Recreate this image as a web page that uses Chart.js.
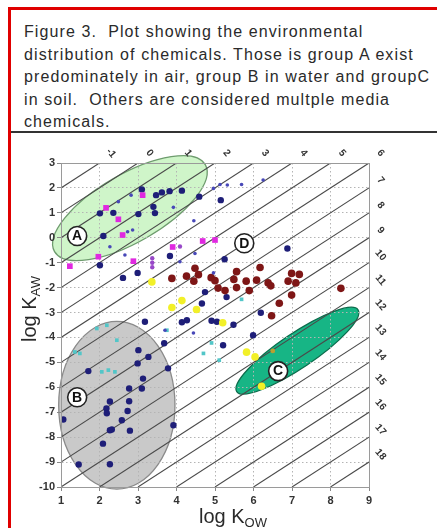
<!DOCTYPE html>
<html><head><meta charset="utf-8">
<script src="https://cdn.jsdelivr.net/npm/chart.js@4"></script>
<style>
html,body{margin:0;padding:0;background:#fff;}
body{width:437px;height:528px;position:relative;overflow:hidden;font-family:"Liberation Sans",Arial,sans-serif;}
#frameTop{position:absolute;left:8px;top:7px;width:429px;height:3px;background:#e00000;}
#frameLeft{position:absolute;left:8px;top:7px;width:3px;height:521px;background:#e00000;}
#caption{position:absolute;left:24px;top:21px;width:413px;font-size:16px;line-height:22.5px;color:#2a2a2a;letter-spacing:1.1px;white-space:pre;}
#sep{position:absolute;left:11px;top:131px;width:426px;height:2px;background:#333;}
#wrap{position:absolute;left:0;top:134px;width:437px;height:394px;}
</style></head>
<body>
<div id="frameTop"></div><div id="frameLeft"></div>
<div id="caption">Figure 3.  Plot showing the environmental
distribution of chemicals. Those is group A exist
predominately in air, group B in water and groupC
in soil.  Others are considered multple media
chemicals.</div>
<div id="sep"></div>
<div id="wrap"><canvas id="c" width="437" height="394"></canvas></div>
<script>
// ---- data ----
const xTicks = [1,2,3,4,5,6,7,8,9];
const yTicks = [3,2,1,0,-1,-2,-3,-4,-5,-6,-7,-8,-9,-10];
const koaTop = [-1,0,1,2,3,4,5,6];
const koaRight = [7,8,9,10,11,12,13,14,15,16,17,18];

const navyPts = [[3.10,1.94],[3.47,1.71],[3.62,1.82],[3.82,1.87],[4.14,1.89],
[2.01,0.98],[2.36,1.00],[3.01,0.95],[3.40,1.24],[3.44,0.99],
[2.10,0.07],[4.59,1.65],[5.15,1.51],
[2.01,-1.10],[2.61,-1.61],[2.99,-1.41],[3.83,-0.73],[5.25,-0.86],[6.88,-0.43],
[4.74,-2.18],[5.30,-2.38],[4.66,-2.64],[4.27,-3.31],[4.14,-3.39],[4.91,-3.33],[5.05,-3.37],[5.48,-3.49],[6.19,-3.01],[5.99,-3.91],[5.21,-4.31],
[3.18,-3.37],[3.68,-4.23],[3.01,-4.51],[3.27,-4.78],[2.99,-5.04],[1.71,-5.35],[3.78,-5.24],[3.13,-5.65],
[2.77,-6.05],[3.10,-6.05],[2.27,-6.57],[2.18,-6.85],[2.19,-7.04],[2.77,-6.56],[2.73,-6.95],[2.58,-7.32],[1.06,-7.29],
[2.32,-7.69],[2.27,-7.72],[2.79,-7.74],[3.92,-7.52],[2.09,-8.26],[1.46,-9.10],[2.27,-9.09]];
const smallBluePts = [[2.49,1.45],[2.27,-0.36],[4.09,-0.96],[2.82,1.71],[2.73,0.24],[2.86,0.31],[3.92,1.22],[4.45,0.68],[4.96,1.98],[5.13,2.14],[5.32,2.12],[5.69,2.14],[6.25,2.32],[2.66,-0.69],[4.48,-0.63],[4.44,-3.82],[4.96,-1.41],[3.70,-3.71]];
const magentaPts = [[3.12,1.71],[2.17,1.20],[2.49,0.74],[2.60,0.11],[1.97,-0.76],[1.23,-1.14],[2.88,-0.94],[3.90,-0.37],[4.68,-0.13],[5.00,-0.09]];
const purplePts = [[3.37,-0.82],[3.37,-1.00],[3.37,-1.18],[4.09,-0.35]];
const darkRedPts = [[3.88,-1.63],[4.26,-1.54],[4.45,-1.74],[4.57,-1.48],[4.48,-1.22],[4.90,-1.60],[5.00,-1.72],[5.08,-2.02],[5.26,-2.12],[5.49,-1.67],[5.56,-1.36],[5.56,-2.00],[5.81,-1.74],[5.89,-2.12],[6.08,-1.70],[6.17,-1.19],[6.38,-1.81],[6.45,-1.93],[6.90,-1.74],[6.99,-1.43],[7.19,-1.47],[7.10,-1.81],[6.99,-2.30],[6.67,-2.63],[6.47,-3.13],[8.27,-2.03]];
const yellowPts = [[3.36,-1.77],[3.88,-2.80],[4.14,-2.52],[4.52,-2.88],[5.20,-3.41],[5.82,-4.59],[6.04,-4.78],[6.21,-5.96]];
const cyanPts = [[1.93,-3.64],[2.19,-3.51],[1.36,-4.58],[1.49,-4.64],[2.45,-4.11],[2.23,-5.31],[2.06,-5.38],[2.40,-5.38],[5.69,-2.47],[4.91,-4.22],[4.70,-4.64],[5.11,-4.91],[3.75,-3.71]];
const olivePts = [[6.50,-4.54]];

const groupNames = ['A','B','C','D'];
const groupLabelAt = [[1.42,0.07],[1.42,-6.40],[6.64,-5.35],[5.76,-0.22]];
// group regions: center (data), semi-axes in x-axis units, rotation in degrees (screen)
const regions = [
  {center:[2.79,1.19], a:2.26, b:0.88, rot:-30, fill:'#cff5c9', stroke:'#6e9c6e'},
  {center:[2.45,-6.72], a:1.51, b:2.18, rot:0, fill:'#c9c9c9', stroke:'#8a8a8a'},
  {center:[7.14,-4.53], a:1.90, b:0.45, rot:-34, fill:'#17b585', stroke:'#0c6c4c'}
];

const toXY = arr => arr.map(p => ({x:p[0], y:p[1]}));
const X0 = xTicks[0], X1 = xTicks[xTicks.length-1];
const Y0 = yTicks[yTicks.length-1], Y1 = yTicks[0];

const lineSets = koaTop.concat(koaRight).map(c => {
  const xa = Math.max(X0, Y0 + c), xb = Math.min(X1, Y1 + c);
  return {type:'line', data:[{x:xa,y:xa-c},{x:xb,y:xb-c}], borderColor:'#4a4a4a', borderWidth:1.1, pointRadius:0, order:10, fill:false};
});

const pt = (data, color, r, style) => ({type:'scatter', data:toXY(data), backgroundColor:color, borderColor:color, borderWidth:0, pointRadius:r, pointStyle:style||'circle', order:1});

const datasets = lineSets.concat([
  pt(smallBluePts, '#4848b8', 1.8),
  pt(cyanPts, '#52c6c8', 2.6, 'rect'),
  pt(magentaPts, '#e028e0', 4, 'rect'),
  pt(purplePts, '#9848c8', 2.2),
  pt(darkRedPts, '#7e1616', 3.8),
  pt(yellowPts, '#f2f028', 3.8),
  pt(olivePts, '#b8a030', 2.4),
  pt(navyPts, '#1e1e78', 3.2)
]);

const tickFont = {family:'"Liberation Sans", Arial, sans-serif', size:11, weight:'bold'};

const deco = {
  id:'deco',
  beforeDraw(chart){
    const ctx = chart.ctx, xs = chart.scales.x, ys = chart.scales.y;
    const ux = xs.getPixelForValue(1) - xs.getPixelForValue(0);
    regions.forEach(r => {
      ctx.save();
      ctx.beginPath();
      ctx.ellipse(xs.getPixelForValue(r.center[0]), ys.getPixelForValue(r.center[1]), r.a*ux, r.b*ux, r.rot*Math.PI/180, 0, Math.PI*2);
      ctx.fillStyle = r.fill; ctx.fill();
      ctx.lineWidth = 1.3; ctx.strokeStyle = r.stroke; ctx.stroke();
      ctx.restore();
    });
  },
  afterDatasetsDraw(chart){
    const ctx = chart.ctx, xs = chart.scales.x, ys = chart.scales.y;
    groupNames.forEach((n,i) => {
      const px = xs.getPixelForValue(groupLabelAt[i][0]), py = ys.getPixelForValue(groupLabelAt[i][1]);
      ctx.save();
      ctx.beginPath(); ctx.arc(px, py, 9.5, 0, Math.PI*2);
      ctx.fillStyle = '#fff'; ctx.fill();
      ctx.lineWidth = 1.6; ctx.strokeStyle = '#222'; ctx.stroke();
      ctx.fillStyle = '#111'; ctx.font = 'bold 14px "Liberation Sans", Arial, sans-serif';
      ctx.textAlign = 'center'; ctx.textBaseline = 'middle';
      ctx.fillText(n, px, py + 0.5);
      ctx.restore();
    });
  },
  afterDraw(chart){
    const ctx = chart.ctx, xs = chart.scales.x, ys = chart.scales.y, a = chart.chartArea;
    ctx.save();
    ctx.strokeStyle = '#9a9a9a'; ctx.lineWidth = 1;
    ctx.strokeRect(Math.round(a.left)+0.5, Math.round(a.top)+0.5, Math.round(a.right-a.left), Math.round(a.bottom-a.top));
    // Koa labels
    ctx.fillStyle = '#333'; ctx.font = 'bold 10px "Liberation Sans", Arial, sans-serif';
    ctx.textAlign = 'center'; ctx.textBaseline = 'middle';
    const drawRot = (t, x, y) => { ctx.save(); ctx.translate(x, y); ctx.rotate(50*Math.PI/180); ctx.fillText(t, 0, 0); ctx.restore(); };
    koaTop.forEach(c => drawRot(String(c), xs.getPixelForValue(c + 3.3), ys.getPixelForValue(3.4)));
    koaRight.forEach(c => drawRot(String(c), xs.getPixelForValue(9.3), ys.getPixelForValue(9.3 - c)));
    // axis titles
    ctx.fillStyle = '#2a2a2a'; ctx.textAlign = 'left'; ctx.textBaseline = 'alphabetic';
    ctx.font = '20px "Liberation Sans", Arial, sans-serif';
    const bx = 199, by = 389;
    ctx.fillText('log K', bx, by);
    const w = ctx.measureText('log K').width;
    ctx.font = '13px "Liberation Sans", Arial, sans-serif';
    ctx.fillText('OW', bx + w, by + 4);
    ctx.save();
    ctx.translate(36, 208); ctx.rotate(-Math.PI/2);
    ctx.font = '20px "Liberation Sans", Arial, sans-serif';
    ctx.fillText('log K', 0, 0);
    const w2 = ctx.measureText('log K').width;
    ctx.font = '13px "Liberation Sans", Arial, sans-serif';
    ctx.fillText('AW', w2, 4);
    ctx.restore();
    ctx.restore();
  }
};

new Chart(document.getElementById('c'), {
  type:'scatter',
  data:{datasets},
  options:{
    responsive:false, animation:false, devicePixelRatio:1,
    layout:{padding:{top:29, right:68, left:0, bottom:0}},
    plugins:{legend:{display:false}, tooltip:{enabled:false}},
    scales:{
      x:{type:'linear', min:X0, max:X1,
         afterFit(s){ s.height = 41; },
         afterBuildTicks(s){ s.ticks = xTicks.map(v => ({value:v})); },
         ticks:{font:tickFont, color:'#333', padding:3, callback:v => String(v)},
         grid:{color:'#b4b4b4', lineWidth:1, tickLength:4, tickColor:'#888'},
         border:{display:true, color:'#9a9a9a', dash:[1.5,2.5]}
      },
      y:{type:'linear', min:Y0, max:Y1,
         afterFit(s){ s.width = 61; },
         afterBuildTicks(s){ s.ticks = yTicks.map(v => ({value:v})); },
         ticks:{font:tickFont, color:'#333', padding:2, callback:v => String(v)},
         grid:{color:'#b4b4b4', lineWidth:1, tickLength:4, tickColor:'#888'},
         border:{display:true, color:'#9a9a9a', dash:[1.5,2.5]}
      }
    }
  },
  plugins:[deco]
});
</script>
</body></html>
